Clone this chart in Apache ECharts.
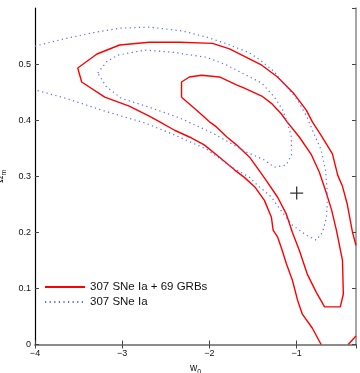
<!DOCTYPE html>
<html lang="en">
<head>
    <meta charset="UTF-8"/>
    <script src="https://cdn.jsdelivr.net/npm/echarts@6/dist/echarts.min.js"></script>
    <title>w0 - Omega_m contours</title>
</head>
<body style="margin:0">
<div id="main" style="width:360px;height:373px;"></div>
<script type="text/javascript">
    // legend names
    var nameGrb = '307 SNe Ia + 69 GRBs';
    var nameSne = '307 SNe Ia';

    // red, SNe + GRBs, outer contour (runs off the right edge)
    var redOuter = [
        [-0.72, 0.0], [-0.82, 0.029], [-0.935, 0.054], [-0.99, 0.079], [-1.05, 0.115],
        [-1.12, 0.145], [-1.175, 0.172], [-1.22, 0.192], [-1.27, 0.204], [-1.29, 0.227],
        [-1.37, 0.257], [-1.48, 0.281], [-1.60, 0.298], [-1.71, 0.311], [-1.885, 0.334],
        [-2.06, 0.356], [-2.23, 0.370], [-2.40, 0.382], [-2.57, 0.397], [-2.69, 0.407],
        [-2.92, 0.425], [-3.20, 0.441], [-3.465, 0.468], [-3.51, 0.493], [-3.29, 0.518],
        [-3.03, 0.534], [-2.69, 0.539], [-2.34, 0.539], [-1.965, 0.537], [-1.77, 0.527],
        [-1.565, 0.511], [-1.40, 0.498], [-1.22, 0.477], [-1.03, 0.447], [-0.89, 0.418],
        [-0.82, 0.397], [-0.72, 0.373], [-0.59, 0.340], [-0.53, 0.302], [-0.475, 0.282],
        [-0.42, 0.250], [-0.36, 0.200], [-0.32, 0.177]
    ];
    // small piece of the same contour in the bottom right corner
    var redOuterCorner = [[-0.32, 0.015], [-0.41, 0.0]];

    // red, SNe + GRBs, inner contour
    var redInner = [
        [-2.32, 0.441], [-2.32, 0.468], [-2.23, 0.477], [-2.09, 0.480], [-1.885, 0.477],
        [-1.69, 0.463], [-1.60, 0.457], [-1.40, 0.443], [-1.29, 0.430], [-1.175, 0.411],
        [-1.11, 0.397], [-0.97, 0.370], [-0.83, 0.338], [-0.74, 0.307], [-0.67, 0.275],
        [-0.60, 0.240], [-0.545, 0.204], [-0.475, 0.150], [-0.465, 0.090], [-0.50, 0.067],
        [-0.68, 0.067], [-0.775, 0.093], [-0.88, 0.126], [-0.97, 0.168], [-1.05, 0.200],
        [-1.12, 0.233], [-1.22, 0.263], [-1.37, 0.297], [-1.54, 0.334], [-1.69, 0.356],
        [-1.80, 0.370], [-1.92, 0.388], [-2.00, 0.397], [-2.15, 0.418], [-2.32, 0.441]
    ];

    // blue, SNe only, outer contour
    var blueOuter = [
        [-4.0, 0.532], [-3.72, 0.543], [-3.37, 0.555], [-3.03, 0.564], [-2.69, 0.566],
        [-2.31, 0.559], [-2.03, 0.548], [-1.80, 0.536], [-1.54, 0.520], [-1.40, 0.505],
        [-1.255, 0.486], [-1.14, 0.464], [-0.99, 0.436], [-0.88, 0.405], [-0.80, 0.375],
        [-0.72, 0.347], [-0.67, 0.311], [-0.65, 0.275], [-0.65, 0.249], [-0.66, 0.225],
        [-0.705, 0.200], [-0.775, 0.186], [-0.89, 0.195], [-1.05, 0.213], [-1.20, 0.243],
        [-1.29, 0.263], [-1.45, 0.284], [-1.54, 0.298], [-1.74, 0.316], [-2.03, 0.348],
        [-2.42, 0.375], [-2.74, 0.395], [-3.24, 0.418], [-3.625, 0.438], [-4.0, 0.454]
    ];

    // blue, SNe only, inner contour
    var blueInner = [
        [-3.28, 0.484], [-3.18, 0.504], [-3.05, 0.516], [-2.74, 0.525], [-2.42, 0.521],
        [-2.03, 0.512], [-1.80, 0.498], [-1.575, 0.480], [-1.40, 0.466], [-1.255, 0.441],
        [-1.16, 0.418], [-1.11, 0.397], [-1.06, 0.370], [-1.06, 0.338], [-1.12, 0.320],
        [-1.255, 0.316], [-1.37, 0.329], [-1.575, 0.343], [-1.965, 0.377], [-2.34, 0.404],
        [-2.69, 0.423], [-3.01, 0.439], [-3.18, 0.459], [-3.28, 0.484]
    ];

    // fiducial point
    var crossPoint = [[-1, 0.27]];

    var myChart = echarts.init(document.getElementById('main'));

    var red = '#ff0000';
    var blue = '#5566ff';
    var minus = function (v) { return String(v).replace('-', '\u2212'); };

    var redStyle = {color: red, width: 1.4, type: 'solid'};
    var blueStyle = {color: blue, width: 1.2, type: [1.2, 3.4]};

    function contour(name, data, style) {
        return {
            name: name,
            type: 'line',
            data: data,
            showSymbol: false,
            symbol: 'none',
            smooth: false,
            clip: true,
            itemStyle: {color: style.color},
            lineStyle: style
        };
    }

    option = {
        backgroundColor: '#ffffff',
        animation: false,
        textStyle: {fontFamily: 'Liberation Sans, Arial, sans-serif'},
        grid: {left: 35, top: 8, right: 4, bottom: 28.5, outerBoundsMode: 'none', containLabel: false},
        legend: {
            data: [nameGrb, nameSne],
            orient: 'vertical',
            left: 44,
            top: 281,
            padding: 0,
            itemWidth: 40,
            itemHeight: 14,
            itemGap: 3,
            itemStyle: {opacity: 0},
            textStyle: {fontSize: 11.5, color: '#111'}
        },
        xAxis: [{
            type: 'value',
            min: -4,
            max: -0.32,
            interval: 1,
            position: 'bottom',
            name: 'w{s|0}',
            nameLocation: 'middle',
            nameGap: 9,
            nameTextStyle: {
                fontSize: 10, color: '#111',
                rich: {s: {fontSize: 7, verticalAlign: 'bottom', lineHeight: 14, padding: [5, 0, 0, 0]}}
            },
            axisLine: {lineStyle: {color: '#777', width: 1.5}},
            axisTick: {inside: true, length: 4, lineStyle: {color: '#444'}},
            axisLabel: {fontSize: 9, color: '#111', margin: 5, showMaxLabel: false, formatter: minus},
            splitLine: {show: false}
        }, {
            type: 'value',
            min: -4,
            max: -0.32,
            interval: 1,
            position: 'top',
            axisLine: {lineStyle: {color: '#888', width: 1.5}},
            axisTick: {inside: true, length: 4, lineStyle: {color: '#444'}},
            axisLabel: {show: false},
            splitLine: {show: false}
        }],
        yAxis: [{
            type: 'value',
            min: 0,
            max: 0.6,
            interval: 0.1,
            position: 'left',
            name: '\u03a9{s|m}',
            nameLocation: 'middle',
            nameGap: 22,
            nameTextStyle: {
                fontSize: 10, color: '#111',
                rich: {s: {fontSize: 7, verticalAlign: 'bottom', lineHeight: 14, padding: [5, 0, 0, 0]}}
            },
            axisLine: {lineStyle: {color: '#000', width: 1.2}},
            axisTick: {inside: true, length: 4, lineStyle: {color: '#444'}},
            axisLabel: {fontSize: 9, color: '#111', margin: 4, showMaxLabel: false},
            splitLine: {show: false}
        }, {
            type: 'value',
            min: 0,
            max: 0.6,
            interval: 0.1,
            position: 'right',
            axisLine: {show: true, lineStyle: {color: '#888', width: 1.5}},
            axisTick: {show: true, inside: true, length: 4, lineStyle: {color: '#444'}},
            axisLabel: {show: false},
            splitLine: {show: false}
        }],
        series: [
            contour(nameGrb, redOuter, redStyle),
            contour(nameGrb, redOuterCorner, redStyle),
            contour(nameGrb, redInner, redStyle),
            contour(nameSne, blueOuter, blueStyle),
            contour(nameSne, blueInner, blueStyle),
            {
                name: 'fiducial',
                type: 'scatter',
                data: crossPoint,
                symbol: 'path://M0,5.4H12V6.6H0Z M5.4,0H6.6V12H5.4Z',
                symbolSize: 13,
                itemStyle: {color: '#000'},
                z: 5
            }
        ]
    };

    myChart.setOption(option);
</script>
</body>
</html>
